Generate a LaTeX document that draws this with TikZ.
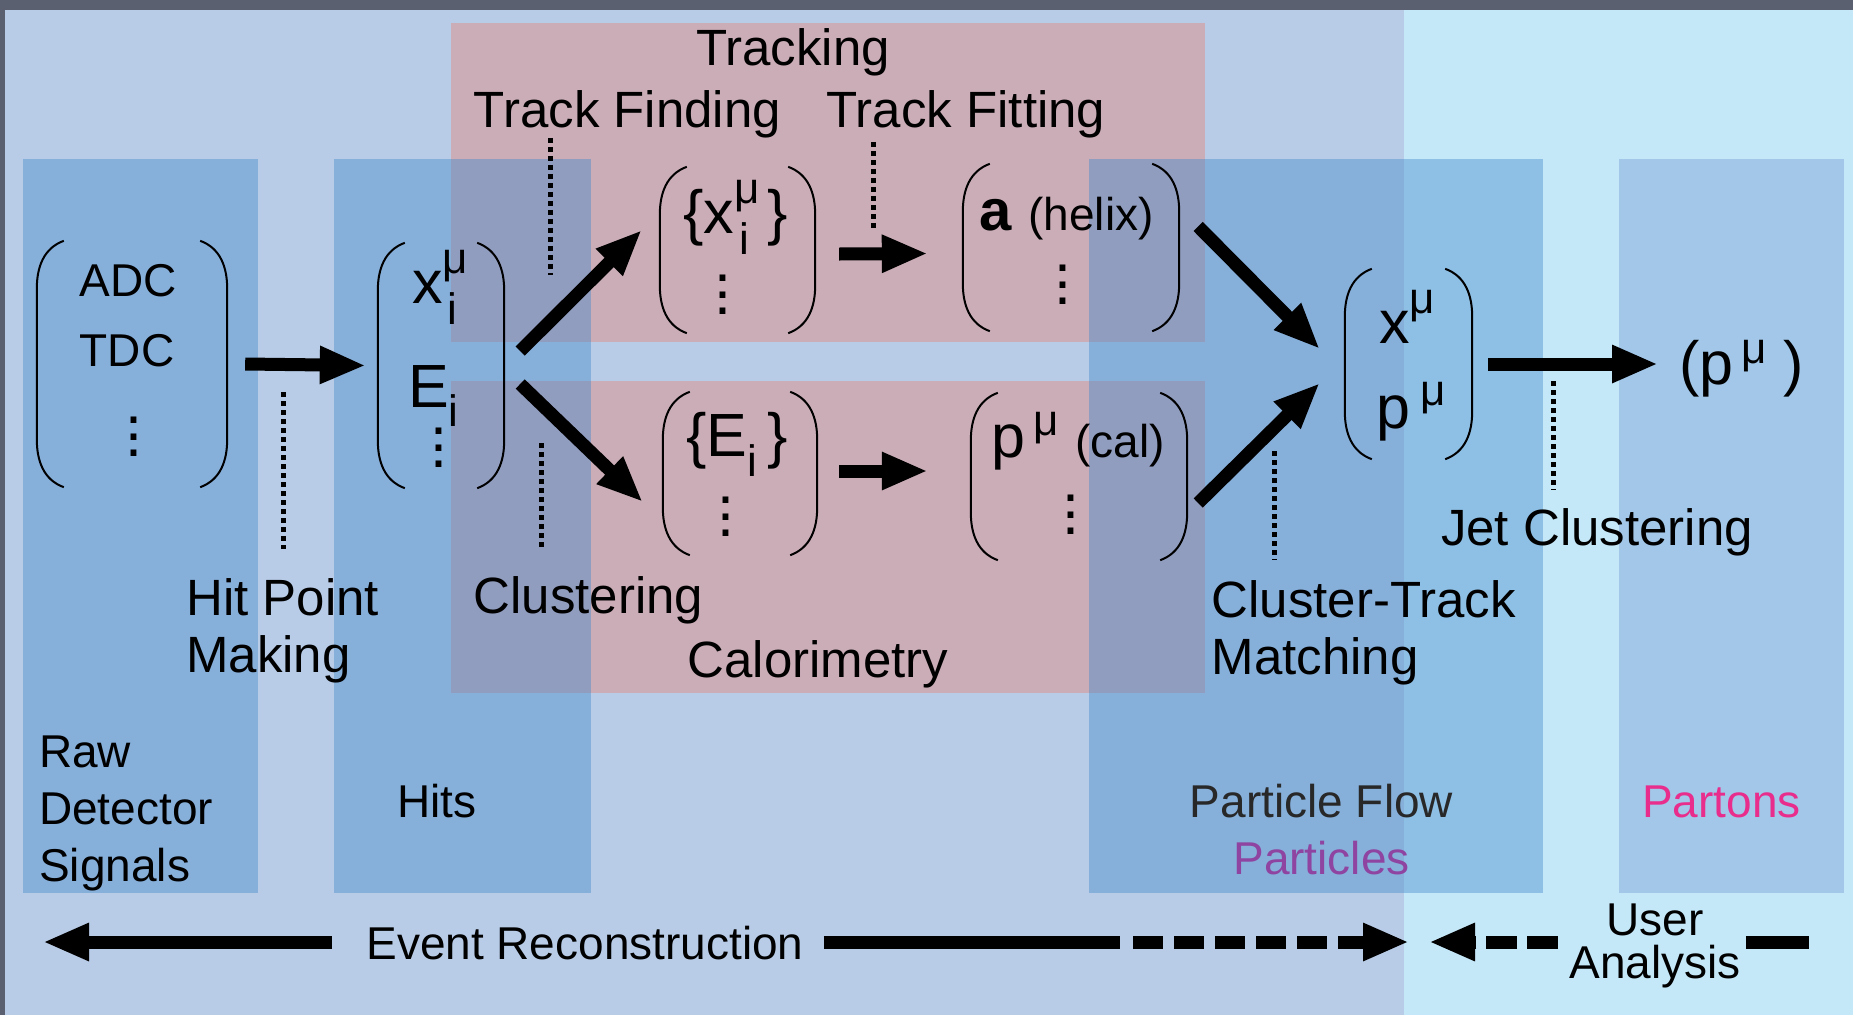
\documentclass[tikz,border=0pt]{standalone}
\usepackage{fontspec}
\setmainfont{Liberation Sans}
\usetikzlibrary{arrows.meta,calc}
\definecolor{bgdark}{RGB}{90,96,112}
\definecolor{bgblue}{RGB}{184,204,232}
\definecolor{bgcyan}{RGB}{197,232,248}
\definecolor{trkpink}{RGB}{203,173,184}
\definecolor{colblue}{RGB}{67,135,201}
\definecolor{colpale}{RGB}{162,199,232}
\definecolor{pfgray}{RGB}{40,40,40}
\definecolor{ptpurple}{RGB}{142,68,160}
\definecolor{ptpink}{RGB}{232,45,140}
\newcommand\lblfont{\fontsize{51}{57}\selectfont}
\newcommand\stgfont{\fontsize{46}{57}\selectfont}
\newcommand\matfont{\fontsize{61}{61}\selectfont}
\newcommand\scrfont{\fontsize{44}{44}\selectfont}
\newcommand\notefont{\fontsize{46}{46}\selectfont}
\newcommand\upix[2][30pt]{\raisebox{#1}{\scrfont #2}}
\newcommand\dnix[2][21pt]{\raisebox{-#1}{\scrfont #2}}
% big round brackets round an empty matrix node
\newcommand\brk[1]{%
	\draw[parline] ([xshift=27pt]#1.north west) to[out=200,in=90] ([yshift=-48pt]#1.north west) -- ([yshift=48pt]#1.south west) to[out=-90,in=160] ([xshift=27pt]#1.south west);
	\draw[parline] ([xshift=-27pt]#1.north east) to[out=-20,in=90] ([yshift=-48pt]#1.north east) -- ([yshift=48pt]#1.south east) to[out=-90,in=20] ([xshift=-27pt]#1.south east);}
\tikzset{
	col/.style={fill=colblue, fill opacity=.42},
	mat/.style={inner sep=0pt},
	parline/.style={line width=2pt},
	lbl/.style={font=\lblfont, inner sep=0pt, anchor=base},
	stg/.style={font=\stgfont, inner sep=0pt, anchor=base},
	ent/.style={font=\matfont, inner sep=0pt, anchor=base west},
	dts/.style={font=\fontsize{61}{16.5}\selectfont, inner sep=0pt, anchor=north, align=center},
	shaft/.style={line width=13pt},
	flow/.style={shaft, -{Triangle[length=46pt,width=35pt]}},
	guide/.style={line width=5pt, dash pattern=on 5pt off 4pt}
}
\begin{document}
\begin{tikzpicture}[x=1pt,y=-1pt]
	\useasboundingbox (0,0) rectangle (1853,1015);
	% backdrop
	\fill[bgdark] (0,0) rectangle (1853,1015);
	\fill[bgblue] (5,10) rectangle (1404,1015);
	\fill[bgcyan] (1404,10) rectangle (1853,1015);
	% tracking and calorimetry bands
	\fill[trkpink] (451,23) rectangle (1205,342);
	\fill[trkpink] (451,381) rectangle (1205,693);
	% data stage columns
	\fill[col] (23,159) rectangle (258,893);
	\fill[col] (334,159) rectangle (591,893);
	\fill[col] (1089,159) rectangle (1543,893);
	\fill[colpale] (1619,159) rectangle (1844,893);

	% matrices
	\node[mat, minimum width=190pt, minimum height=246pt] (mRaw) at (132,364) {};
	\node[mat, minimum width=126pt, minimum height=245pt] (mHits) at (441,365.5) {};
	\node[mat, minimum width=155pt, minimum height=166pt] (mTrk) at (737.5,250) {};
	\node[mat, minimum width=216pt, minimum height=167pt] (mFit) at (1071,247.5) {};
	\node[mat, minimum width=154pt, minimum height=163pt] (mClu) at (740,473.5) {};
	\node[mat, minimum width=216pt, minimum height=167pt] (mCal) at (1079,476.5) {};
	\node[mat, minimum width=127pt, minimum height=190pt] (mPart) at (1408.5,364) {};
	\brk{mRaw} \brk{mHits} \brk{mTrk} \brk{mFit} \brk{mClu} \brk{mCal} \brk{mPart}

	\node[stg] (eADC) at (128,296) {ADC};
	\node[stg] (eTDC) at (127,366) {TDC};
	\node[dts] (dRaw) at (134,417) {.\\.\\.};
	\node[ent] (eHx) at (412,303) {x\rlap{\kern5pt\dnix{i}}\upix{μ}};
	\node[ent] (eHE) at (408,407) {E\dnix[19pt]{i}};
	\node[dts] (dHits) at (439,428) {.\\.\\.};
	\node[ent] (eTx) at (683,233) {\{x\rlap{\kern5pt\dnix{i}}\upix{μ}\kern8pt\}};
	\node[dts] (dTrk) at (723,275) {.\\.\\.};
	\node[ent] (eFa) at (979,230) {{\fontsize{58}{58}\selectfont\bfseries a} {\notefont(helix)}};
	\node[dts] (dFit) at (1063,265) {.\\.\\.};
	\node[ent] (eCE) at (686,456) {\{E\dnix[20pt]{i}\kern10pt\}};
	\node[dts] (dClu) at (726,497) {.\\.\\.};
	\node[ent] (eCp) at (991,457) {p\kern8pt\upix[22pt]{μ} {\notefont(cal)}};
	\node[dts] (dCal) at (1071,495) {.\\.\\.};
	\node[ent] (ePx) at (1379,343) {x\upix{μ}};
	\node[ent] (ePp) at (1376,428) {p\kern10pt\upix[23pt]{μ}};
	\node[ent] (pOut) at (1679,384) {(p\kern8pt\upix[21pt]{μ}\kern17pt)};

	% process arrows
	\draw[flow] ([xshift=18pt]mRaw.east) -- ([xshift=-12pt]mHits.west);
	\draw[flow] ([shift={(16,-14.5)}]mHits.east) -- ([shift={(-18,-20)}]mTrk.west);
	\draw[flow] ([shift={(16,18.5)}]mHits.east) -- ([shift={(-20,28.5)}]mClu.west);
	\draw[flow] ([shift={(24,4)}]mTrk.east) -- ([shift={(-35,6)}]mFit.west);
	\draw[flow] ([shift={(22,-2.5)}]mClu.east) -- ([shift={(-43,-5.5)}]mCal.west);
	\draw[flow] ([shift={(19,-21)}]mFit.east) -- ([shift={(-25,-15)}]mPart.west);
	\draw[flow] ([shift={(11,26.5)}]mCal.east) -- ([shift={(-25,19)}]mPart.west);
	\draw[flow] ([xshift=16pt]mPart.east) -- ($(pOut.west |- mPart.east)+(-21,0)$);

	% process labels
	\node[lbl] (lTrack) at (793,65) {Tracking};
	\node[lbl] (lFind) at (627.5,127) {Track Finding};
	\node[lbl] (lFit) at (966,127) {Track Fitting};
	\node[lbl] (lClu) at (588.5,613) {Clustering};
	\node[lbl] (lCal) at (818,677) {Calorimetry};
	\node[lbl] (lJet) at (1597,545) {Jet Clustering};
	\node[lbl, anchor=north west, align=left] (lHit) at (186,578.5) {Hit Point\\Making};
	\node[lbl, anchor=north west, align=left] (lCTM) at (1211.5,580.5) {Cluster-Track\\Matching};

	% dotted guides
	\coordinate (gHit) at (283,392);
	\coordinate (gFind) at (550,275);
	\coordinate (gClu) at (541,443);
	\coordinate (gFit) at (873,228);
	\coordinate (gCTM) at (1274,451);
	\coordinate (gJet) at (1553,381);
	\draw[guide] (gHit) -- ($(gHit |- lHit.north)+(0,-30)$);
	\draw[guide] (gFind |- lFind.south) -- (gFind);
	\draw[guide] (gClu) -- ($(gClu |- lClu.north)+(0,-25)$);
	\draw[guide] ($(gFit |- lFit.south)+(0,4)$) -- (gFit);
	\draw[guide] (gCTM) -- ($(gCTM |- lCTM.north)+(0,-21)$);
	\draw[guide] (gJet) -- ($(gJet |- lJet.north)+(0,-18)$);

	% stage names
	\node[stg, anchor=north west, align=left] (sRaw) at (39,735.5) {Raw\\Detector\\Signals};
	\node[stg] (sHits) at (437,817) {Hits};
	\node[stg, anchor=north, align=center] (sPF) at (1321.5,784) {\textcolor{pfgray}{Particle Flow}\\\textcolor{ptpurple}{Particles}};
	\node[stg, text=ptpink] (sPart) at (1721.5,817) {Partons};

	% bottom arrows
	\node[stg] (nEvt) at (585,959) {Event Reconstruction};
	\node[stg, anchor=north, align=center, font=\fontsize{46}{43}\selectfont] (nUser) at (1655,904) {User\\Analysis};
	\coordinate (evL) at (43,942);
	\coordinate (evM) at (1120,942);
	\coordinate (evR) at (1409,942);
	\coordinate (uaL) at (1429,942);
	\coordinate (uaR) at (1809,942);
	\draw[flow] ($(nEvt.west |- evL)+(-34,0)$) -- (evL);
	\draw[shaft] ($(nEvt.east |- evL)+(20,0)$) -- (evM);
	\draw[flow, dash pattern=on 30pt off 11pt] ($(evM)+(13,0)$) -- (evR);
	\draw[flow, dash pattern=on 31pt off 10pt] ($(nUser.west |- uaL)+(-11,0)$) -- (uaL);
	\draw[shaft] ($(nUser.east |- uaR)+(5,0)$) -- (uaR);
\end{tikzpicture}
\end{document}
